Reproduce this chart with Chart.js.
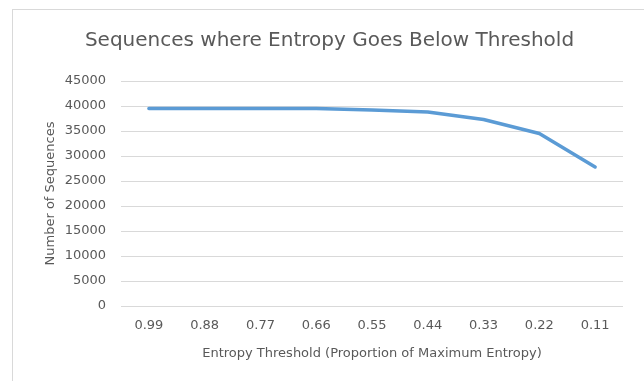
<!DOCTYPE html>
<html lang="en">
<head>
    <meta charset="UTF-8">
    <title>Sequences where Entropy Goes Below Threshold</title>
    <script src="https://cdn.jsdelivr.net/npm/chart.js"></script>
    <style>
        html, body { margin: 0; padding: 0; background: #ffffff; }
        .frame { position: absolute; left: 12px; top: 9px; width: 640px; height: 380px; border: 1px solid #d9d9d9; box-sizing: border-box; }
        .chart-box { position: absolute; left: 1px; top: 1px; width: 631px; height: 371px; }
    </style>
</head>
<body>
    <div class="frame">
        <div class="chart-box"><canvas id="myChart"></canvas></div>
    </div>
    <script>
        const thresholds = ['0.99', '0.88', '0.77', '0.66', '0.55', '0.44', '0.33', '0.22', '0.11'];
        const sequenceCounts = [39500, 39500, 39500, 39500, 39200, 38800, 37300, 34500, 27800];

        const textColor = '#595959';
        const gridColor = '#d9d9d9';
        const fontFamily = '"DejaVu Sans", sans-serif';

        new Chart(document.getElementById('myChart'), {
            type: 'line',
            data: {
                labels: thresholds,
                datasets: [{
                    label: 'Number of Sequences',
                    data: sequenceCounts,
                    borderColor: '#5b9bd5',
                    borderWidth: 3.5,
                    borderCapStyle: 'round',
                    borderJoinStyle: 'round',
                    pointRadius: 0,
                    tension: 0,
                    fill: false
                }]
            },
            options: {
                responsive: true,
                maintainAspectRatio: false,
                animation: false,
                layout: { padding: { left: 11, right: 11, top: 0, bottom: 0 } },
                plugins: {
                    legend: { display: false },
                    tooltip: { enabled: false },
                    title: {
                        display: true,
                        text: 'Sequences where Entropy Goes Below Threshold',
                        color: textColor,
                        font: { family: fontFamily, size: 20, weight: 'normal' },
                        padding: { top: 18, bottom: 28 }
                    }
                },
                scales: {
                    x: {
                        offset: true,
                        grid: { display: false, drawTicks: false, offset: true },
                        border: { display: false },
                        ticks: { color: textColor, padding: 12, font: { family: fontFamily, size: 13 } },
                        title: {
                            display: true,
                            text: 'Entropy Threshold (Proportion of Maximum Entropy)',
                            color: textColor,
                            font: { family: fontFamily, size: 13 },
                            padding: { top: 0, bottom: 21 }
                        },
                        afterFit: (scale) => { scale.height = 76; }
                    },
                    y: {
                        min: 0,
                        max: 45000,
                        ticks: {
                            stepSize: 5000,
                            color: textColor,
                            padding: 15,
                            font: { family: fontFamily, size: 13 },
                            callback: (v) => String(v)
                        },
                        grid: { color: gridColor, lineWidth: 1, drawTicks: false },
                        border: { display: false },
                        title: {
                            display: true,
                            text: 'Number of Sequences',
                            color: textColor,
                            font: { family: fontFamily, size: 13 },
                            padding: { top: 18, bottom: 0 }
                        },
                        afterFit: (scale) => { scale.width = 96; }
                    },
                    // empty right-hand spacer so the plot ends where the reference does
                    yRight: {
                        position: 'right',
                        min: 0,
                        max: 45000,
                        ticks: { display: false },
                        grid: { display: false, drawTicks: false },
                        border: { display: false },
                        afterFit: (scale) => { scale.width = 11; }
                    }
                }
            }
        });
    </script>
</body>
</html>
